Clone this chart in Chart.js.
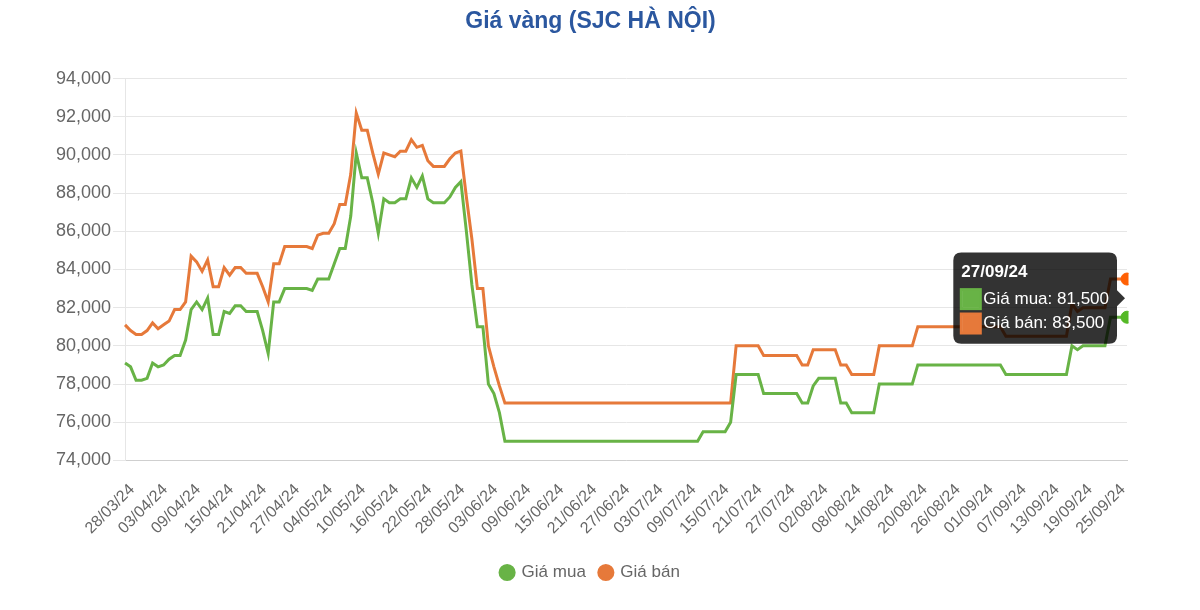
<!DOCTYPE html>
<html>
<head>
<meta charset="utf-8">
<script src="https://cdn.jsdelivr.net/npm/chart.js@4.4.1/dist/chart.umd.min.js"></script>
<style>
  html, body { margin: 0; padding: 0; background: #fff; }
  #wrap { width: 1200px; height: 610px; }
</style>
</head>
<body>
<div id="wrap"><canvas id="gold"></canvas></div>
<script>
// daily dates 28/03/24 .. 27/09/24, 01/05 has no quote
const startDate = new Date(2024, 2, 28);
const endDate = new Date(2024, 8, 27);
const skipDays = ['01/05/24'];

const labels = [];
for (let d = new Date(startDate); d <= endDate; d.setDate(d.getDate() + 1)) {
  const s = String(d.getDate()).padStart(2, '0') + '/' + String(d.getMonth() + 1).padStart(2, '0') + '/24';
  if (!skipDays.includes(s)) labels.push(s);
}

// Giá mua (nghìn đồng / lượng)
const buyPrices = [
  79100, 78900, 78200, 78200, 78300, 79100, 78900, 79000, 79300, 79500,
  79500, 80300, 81900, 82300, 81900, 82500, 80600, 80600, 81800, 81700,
  82100, 82100, 81800, 81800, 81800, 80800, 79600, 82300, 82300, 83000,
  83000, 83000, 83000, 83000, 82900, 83500, 83500, 83500, 84300, 85100,
  85100, 86800, 90100, 88800, 88800, 87500, 85900, 87700, 87500, 87500,
  87700, 87700, 88800, 88300, 88900, 87700, 87500, 87500, 87500, 87800,
  88300, 88600, 86000, 83200, 81000, 81000, 78000, 77500, 76500, 75000,
  75000, 75000, 75000, 75000, 75000, 75000, 75000, 75000, 75000, 75000,
  75000, 75000, 75000, 75000, 75000, 75000, 75000, 75000, 75000, 75000,
  75000, 75000, 75000, 75000, 75000, 75000, 75000, 75000, 75000, 75000,
  75000, 75000, 75000, 75000, 75000, 75500, 75500, 75500, 75500, 75500,
  76000, 78500, 78500, 78500, 78500, 78500, 77500, 77500, 77500, 77500,
  77500, 77500, 77500, 77000, 77000, 77900, 78300, 78300, 78300, 78300,
  77000, 77000, 76500, 76500, 76500, 76500, 76500, 78000, 78000, 78000,
  78000, 78000, 78000, 78000, 79000, 79000, 79000, 79000, 79000, 79000,
  79000, 79000, 79000, 79000, 79000, 79000, 79000, 79000, 79000, 79000,
  78500, 78500, 78500, 78500, 78500, 78500, 78500, 78500, 78500, 78500,
  78500, 78500, 80000, 79800, 80000, 80000, 80000, 80000, 80000, 81500,
  81500, 81500, 81500
];

// Giá bán
const sellPrices = [
  81100, 80800, 80600, 80600, 80800, 81200, 80900, 81100, 81300, 81900,
  81900, 82300, 84700, 84400, 83900, 84500, 83100, 83100, 84100, 83700,
  84100, 84100, 83800, 83800, 83800, 83100, 82300, 84300, 84300, 85200,
  85200, 85200, 85200, 85200, 85100, 85800, 85900, 85900, 86400, 87400,
  87400, 89000, 92200, 91300, 91300, 90100, 89000, 90100, 90000, 89900,
  90200, 90200, 90800, 90400, 90500, 89700, 89400, 89400, 89400, 89800,
  90100, 90200, 87800, 85600, 83000, 83000, 80000, 78900, 77900, 77000,
  77000, 77000, 77000, 77000, 77000, 77000, 77000, 77000, 77000, 77000,
  77000, 77000, 77000, 77000, 77000, 77000, 77000, 77000, 77000, 77000,
  77000, 77000, 77000, 77000, 77000, 77000, 77000, 77000, 77000, 77000,
  77000, 77000, 77000, 77000, 77000, 77000, 77000, 77000, 77000, 77000,
  77000, 80000, 80000, 80000, 80000, 80000, 79500, 79500, 79500, 79500,
  79500, 79500, 79500, 79000, 79000, 79800, 79800, 79800, 79800, 79800,
  79000, 79000, 78500, 78500, 78500, 78500, 78500, 80000, 80000, 80000,
  80000, 80000, 80000, 80000, 81000, 81000, 81000, 81000, 81000, 81000,
  81000, 81000, 81000, 81000, 81000, 81000, 81000, 81000, 81000, 81000,
  80500, 80500, 80500, 80500, 80500, 80500, 80500, 80500, 80500, 80500,
  80500, 80500, 82200, 81800, 82000, 82000, 82000, 82000, 82000, 83500,
  83500, 83500, 83500
];

const GREEN = '#68b346';
const ORANGE = '#e6793a';
const LABEL_EVERY = 6;

Chart.defaults.font.family = '"Liberation Sans", Arial, Helvetica, sans-serif';
Chart.defaults.color = '#666';

const chart = new Chart(document.getElementById('gold'), {
  type: 'line',
  data: {
    labels: labels,
    datasets: [
      {
        label: 'Giá mua',
        data: buyPrices,
        borderColor: GREEN,
        backgroundColor: GREEN,
        borderWidth: 3,
        pointRadius: 0,
        pointHoverRadius: 6,
        pointHoverBorderWidth: 1,
        tension: 0
      },
      {
        label: 'Giá bán',
        data: sellPrices,
        borderColor: ORANGE,
        backgroundColor: ORANGE,
        borderWidth: 3,
        pointRadius: 0,
        pointHoverRadius: 6,
        pointHoverBorderWidth: 1,
        tension: 0
      }
    ]
  },
  options: {
    responsive: true,
    maintainAspectRatio: false,
    animation: false,
    locale: 'en-US',
    interaction: { mode: 'index', intersect: false },
    layout: { padding: { left: 54, right: 73, top: 0, bottom: 19 } },
    scales: {
      x: {
        grid: { display: false },
        border: { display: true, color: '#cfcfcf' },
        ticks: {
          autoSkip: false,
          minRotation: 45,
          maxRotation: 45,
          padding: 12,
          labelOffset: 7,
          font: { size: 16 },
          color: '#666',
          callback: (v, i) => (i % LABEL_EVERY === 0 ? labels[i] : null)
        }
      },
      y: {
        min: 74000,
        max: 94000,
        grid: { color: '#e6e6e6', tickLength: 12 },
        border: { color: '#e6e6e6' },
        ticks: { stepSize: 2000, font: { size: 18 }, padding: 2, color: '#666' }
      }
    },
    plugins: {
      title: {
        display: true,
        text: 'Giá vàng (SJC HÀ NỘI)',
        color: '#2b579f',
        font: { size: 23, weight: 'bold' },
        padding: { top: 8, bottom: 43 }
      },
      legend: {
        position: 'bottom',
        labels: { usePointStyle: true, pointStyle: 'circle', boxWidth: 12, boxHeight: 10, font: { size: 17 }, padding: 14 }
      },
      tooltip: {
        backgroundColor: 'rgba(0,0,0,0.8)',
        titleFont: { size: 17, weight: 'bold' },
        bodyFont: { size: 17 },
        padding: { x: 8, y: 10 },
        cornerRadius: 8,
        caretSize: 8,
        caretPadding: 2,
        boxWidth: 19,
        boxHeight: 19,
        boxPadding: 1,
        bodySpacing: 4,
        titleMarginBottom: 6,
        xAlign: 'right',
        yAlign: 'center'
      }
    }
  }
});

// show the tooltip on the last day, as in the picture
const last = labels.length - 1;
const active = [{ datasetIndex: 0, index: last }, { datasetIndex: 1, index: last }];
chart.setActiveElements(active);
chart.tooltip.setActiveElements(active, { x: chart.scales.x.getPixelForValue(last), y: chart.chartArea.top });
chart.update();
</script>
</body>
</html>
